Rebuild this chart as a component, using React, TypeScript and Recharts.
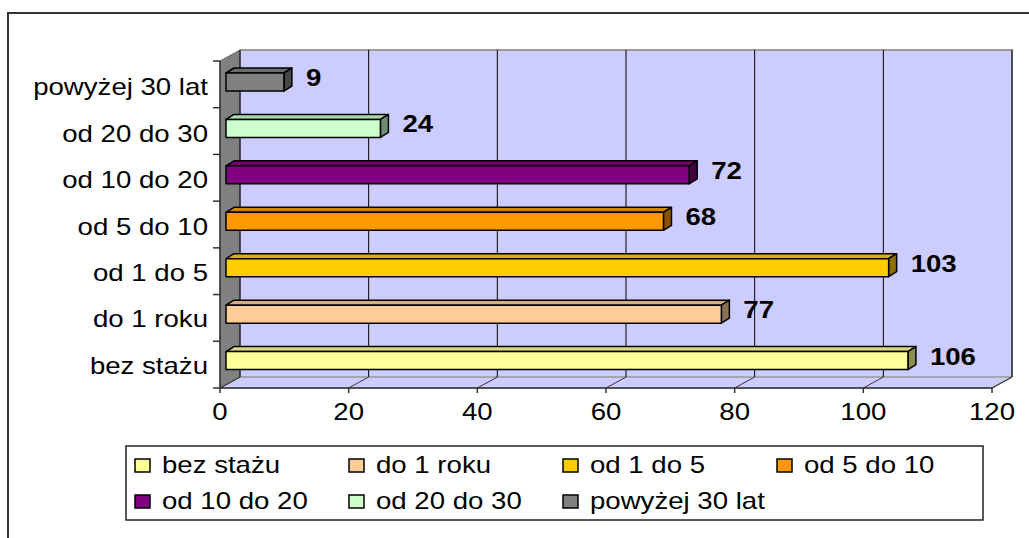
import React from 'react';
import {
  BarChart,
  Bar,
  XAxis,
  YAxis,
  Cell,
  LabelList,
  ReferenceArea,
  ReferenceLine,
} from 'recharts';

// legend order (bottom bar first)
const categories = ['bez stażu', 'do 1 roku', 'od 1 do 5', 'od 5 do 10', 'od 10 do 20', 'od 20 do 30', 'powyżej 30 lat'];
const counts = [106, 77, 103, 68, 72, 24, 9];
const colors = ['#FFFF99', '#FFCC99', '#FFCC00', '#FF9900', '#800080', '#CCFFCC', '#808080'];
const xTicks = [0, 20, 40, 60, 80, 100, 120];

const data = categories.map((name, i) => ({ name, value: counts[i] }));

const FONT = '"Liberation Sans", Arial, sans-serif';
const STRETCH = 1.2;
// 3d offsets
const WALL_DX = 20;
const WALL_DY = 11;
const FRONT_DX = -6;
const FRONT_DY = 4;
const BAR_DX = 8;
const BAR_DY = 5;

function shade(hex: string, k: number) {
  const n = parseInt(hex.slice(1), 16);
  const r = Math.round(((n >> 16) & 255) * k);
  const g = Math.round(((n >> 8) & 255) * k);
  const b = Math.round((n & 255) * k);
  return `rgb(${r},${g},${b})`;
}

function Bar3D(props: any) {
  const { x, y, width, height, fill } = props;
  if (width == null || width <= 0) return null;
  const top = `${x},${y} ${x + BAR_DX},${y - BAR_DY} ${x + width + BAR_DX},${y - BAR_DY} ${x + width},${y}`;
  const side = `${x + width},${y} ${x + width + BAR_DX},${y - BAR_DY} ${x + width + BAR_DX},${y + height - BAR_DY} ${x + width},${y + height}`;
  return (
    <g stroke="#000" strokeWidth={1.5} strokeLinejoin="round">
      <polygon points={top} fill={shade(fill, 0.85)} />
      <polygon points={side} fill={shade(fill, 0.55)} />
      <rect x={x} y={y} width={width} height={height} fill={fill} />
    </g>
  );
}

// walls + floor of the 3d plot, from the area recharts gives
function Walls(props: any) {
  const { x, y, width, height } = props;
  const bottom = y + height;
  const fx = x + FRONT_DX;
  const fy = bottom + FRONT_DY;
  const bx = fx + WALL_DX;
  const backTop = y - 9;
  const backBottom = fy - WALL_DY;
  const right = x + width;
  const n = categories.length;
  const frontTop = backTop + WALL_DY;
  const step = (fy - frontTop) / n;
  return (
    <g>
      <rect x={bx} y={backTop} width={right + FRONT_DX - fx} height={backBottom - backTop} fill="#CCCCFF" />
      <polyline
        points={`${bx},${backTop} ${right + FRONT_DX + WALL_DX},${backTop} ${right + FRONT_DX + WALL_DX},${backBottom}`}
        fill="none"
        stroke="#999"
        strokeWidth={2}
      />
      <polygon
        points={`${fx},${fy} ${bx},${backBottom} ${right + FRONT_DX + WALL_DX},${backBottom} ${right + FRONT_DX},${fy}`}
        fill="#CCCCFF"
        stroke="#999"
        strokeWidth={1.5}
      />
      <polygon points={`${fx},${frontTop} ${bx},${backTop} ${bx},${backBottom} ${fx},${fy}`} fill="#808080" stroke="#666" strokeWidth={1} />
      <line x1={fx} y1={fy} x2={right + FRONT_DX} y2={fy} stroke="#333" strokeWidth={1.5} />
      <line x1={fx} y1={frontTop} x2={fx} y2={fy} stroke="#333" strokeWidth={1.5} />
      {Array.from({ length: n + 1 }).map((_, i) => (
        <line key={i} x1={fx - 7} y1={frontTop + i * step} x2={fx} y2={frontTop + i * step} stroke="#333" strokeWidth={1.5} />
      ))}
    </g>
  );
}

function GridLine3D(props: any) {
  const { x1, y1, y2 } = props;
  if (x1 == null) return null;
  const top = Math.min(y1, y2);
  const bottom = Math.max(y1, y2);
  const fx = x1 + FRONT_DX;
  const fy = bottom + FRONT_DY;
  const bx = fx + WALL_DX;
  const by = fy - WALL_DY;
  return (
    <g>
      <line x1={bx} y1={top - 9} x2={bx} y2={by} stroke="#000" strokeWidth={1} />
      <line x1={bx} y1={by} x2={fx} y2={fy} stroke="#333" strokeWidth={1} />
      <line x1={fx} y1={fy} x2={fx} y2={fy + 5} stroke="#333" strokeWidth={1.5} />
    </g>
  );
}

function XTick(props: any) {
  const { x, y, payload } = props;
  return (
    <text
      transform={`translate(${x + FRONT_DX},${y + 36}) scale(${STRETCH},1)`}
      textAnchor="middle"
      fontFamily={FONT}
      fontSize={23}
      fill="#000"
    >
      {payload.value}
    </text>
  );
}

function YTick(props: any) {
  const { x, y, payload } = props;
  return (
    <text
      transform={`translate(${x - 18},${y + 13}) scale(${STRETCH},1)`}
      textAnchor="end"
      fontFamily={FONT}
      fontSize={23}
      fill="#000"
    >
      {payload.value}
    </text>
  );
}

function ValueLabel(props: any) {
  const { x, y, width, height, value } = props;
  return (
    <text
      transform={`translate(${x + width + 22},${y + height / 2 + 4}) scale(${STRETCH},1)`}
      fontFamily={FONT}
      fontSize={23}
      fontWeight="bold"
      fill="#000"
    >
      {value}
    </text>
  );
}

function ChartLegend() {
  const colX = [9, 223, 437, 651];
  return (
    <svg width={859} height={76} style={{ position: 'absolute', left: 125, top: 445 }}>
      <rect x={1} y={1} width={857} height={74} fill="#fff" stroke="#222" strokeWidth={1.5} />
      {categories.map((c, i) => {
        const col = i % 4;
        const row = Math.floor(i / 4);
        const sx = colX[col] + 1;
        const sy = 14 + row * 36;
        return (
          <g key={c}>
            <rect x={sx} y={sy} width={15} height={13} fill={colors[i]} stroke="#000" strokeWidth={1.5} />
            <text
              transform={`translate(${sx + 27},${sy + 14}) scale(${STRETCH},1)`}
              fontFamily={FONT}
              fontSize={23}
              fill="#000"
            >
              {c}
            </text>
          </g>
        );
      })}
    </svg>
  );
}

export default function App() {
  return (
    <div style={{ position: 'absolute', left: 0, top: 0, width: 1029, height: 538, overflow: 'hidden', background: '#fff' }}>
      <div
        style={{
          position: 'absolute',
          left: 7,
          top: 12,
          width: 1200,
          height: 700,
          borderLeft: '2px solid #333',
          borderTop: '2px solid #333',
        }}
      />
      <div style={{ position: 'absolute', left: 0, top: 0 }}>
        <BarChart
          width={1029}
          height={538}
          data={data}
          layout="vertical"
          margin={{ top: 59, right: 31, left: 0, bottom: 124 }}
          barSize={18}
        >
          <XAxis
            type="number"
            domain={[0, 120]}
            ticks={xTicks}
            axisLine={false}
            tickLine={false}
            tickSize={0}
            tickMargin={0}
            height={30}
            interval={0}
            tick={<XTick />}
          />
          <YAxis
            type="category"
            dataKey="name"
            reversed
            width={226}
            axisLine={false}
            tickLine={false}
            tickSize={0}
            tickMargin={0}
            interval={0}
            tick={<YTick />}
          />
          <ReferenceArea x1={0} x2={120} shape={<Walls />} zIndex={-20} ifOverflow="visible" />
          {xTicks.map((v) => (
            <ReferenceLine key={v} x={v} shape={<GridLine3D />} zIndex={-10} ifOverflow="visible" />
          ))}
          <Bar dataKey="value" shape={<Bar3D />} isAnimationActive={false}>
            {data.map((d, i) => (
              <Cell key={d.name} fill={colors[i]} />
            ))}
            <LabelList dataKey="value" content={<ValueLabel />} />
          </Bar>
        </BarChart>
      </div>
      <ChartLegend />
    </div>
  );
}
